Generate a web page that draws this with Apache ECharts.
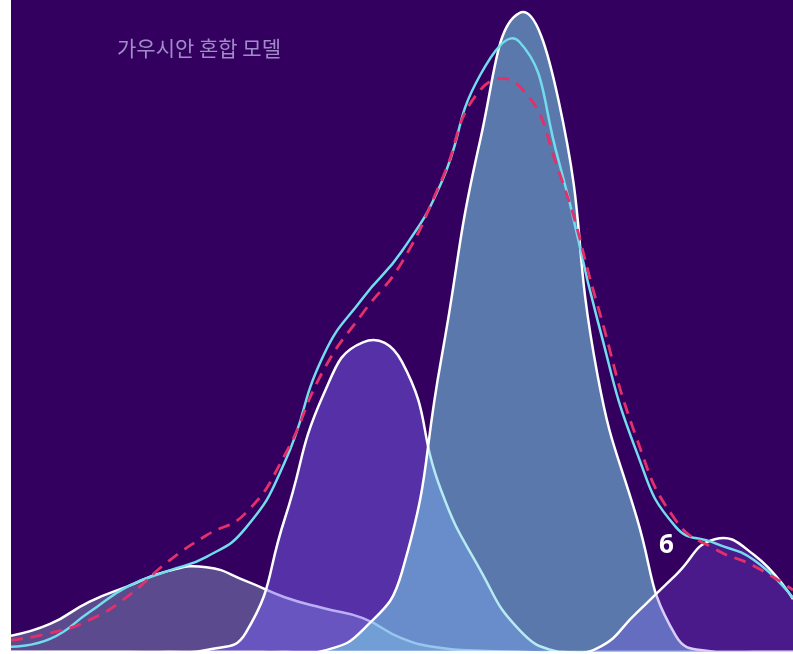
<!DOCTYPE html>
<html>
<head>
<meta charset="utf-8">
<script src="https://cdn.jsdelivr.net/npm/echarts@6/dist/echarts.min.js"></script>
<style>
html,body{margin:0;padding:0;background:#ffffff;}
#chart{width:793px;height:654px;}
</style>
</head>
<body>
<div id="chart"></div>
<script>
// x positions (arbitrary units)
var categories = ['0','0.5','1','1.5','2','2.5','3','3.5','4','4.5','5','5.5','6','6.5','7','7.5','8','8.5','9','9.5','10'];
// component densities (scaled 0-100)
var componentWide   = [2.5,4.3,7.7,10.1,12.4,13.0,10.9,8.4,6.7,5.2,2.1,0.6,0.2,0,0,0,0,0,0,0,0];
var componentLeft   = [0,0,0,0,0,0.3,2.9,20.4,39.6,47.5,44.5,24.8,12.6,3.4,0,0,0,0,0,0,0];
var componentMain   = [0,0,0,0,0,0,0,0,0.2,3.4,12.3,44.8,78.5,98.0,84.7,42.5,20.7,2.5,0,0,0];
var componentRight  = [0,0,0,0,0,0,0,0,0,0,0,0,0,0,0,0.6,6.0,11.8,17.3,14.9,8.1];
var mixtureFit      = [0.8,2.0,6.1,10.1,12.4,14.6,19.0,29.1,45.6,54.3,61.5,71.9,88.5,93.6,75.5,50.9,30.7,19.2,16.7,14.1,8.3];
var observedDensity = [1.8,2.9,4.9,8.6,13.8,17.9,21.3,30.2,43.3,52.0,59.8,72.2,86.2,86.8,73.9,53.2,32.8,20.2,15.8,13.2,9.5];
var titleText = '가우시안 혼합 모델';
var markText = '6';

var SMOOTH = 0.5;

// smooth bezier path through pixel points (unconstrained, ratio of segment lengths)
function curvePath(pts) {
  var n = pts.length, before = [], after = [];
  for (var i = 0; i < n; i++) {
    var p = pts[i];
    if (i === 0 || i === n - 1) { before[i] = p; after[i] = p; continue; }
    var a = pts[i - 1], b = pts[i + 1];
    var vx = (b[0] - a[0]) * SMOOTH, vy = (b[1] - a[1]) * SMOOTH;
    var d0 = Math.hypot(p[0] - a[0], p[1] - a[1]);
    var d1 = Math.hypot(b[0] - p[0], b[1] - p[1]);
    var s = d0 + d1;
    if (s !== 0) { d0 /= s; d1 /= s; }
    before[i] = [p[0] - vx * d0, p[1] - vy * d0];
    after[i] = [p[0] + vx * d1, p[1] + vy * d1];
  }
  var d = 'M' + pts[0][0] + ' ' + pts[0][1];
  for (var j = 1; j < n; j++) {
    d += ' C' + after[j - 1][0] + ' ' + after[j - 1][1] + ' ' +
         before[j][0] + ' ' + before[j][1] + ' ' + pts[j][0] + ' ' + pts[j][1];
  }
  return d;
}

function curveSeries(name, values, opts) {
  return {
    name: name, type: 'custom', coordinateSystem: 'cartesian2d', clip: true,
    data: values.map(function (v, i) { return [i, v]; }),
    renderItem: function (params, api) {
      if (params.dataIndex !== 0) return null;
      var pts = values.map(function (v, i) { return api.coord([i, v]); });
      var line = curvePath(pts);
      var children = [];
      if (opts.fill) {
        var base0 = api.coord([0, 0]), base1 = api.coord([values.length - 1, 0]);
        children.push({
          type: 'path',
          shape: {pathData: line + ' L' + base1[0] + ' ' + base1[1] + ' L' + base0[0] + ' ' + base0[1] + ' Z'},
          style: {fill: opts.fill, stroke: 'none'}
        });
      }
      children.push({
        type: 'path',
        shape: {pathData: line},
        style: {fill: 'none', stroke: opts.stroke, lineWidth: opts.width || 2.5, lineDash: opts.dash || null}
      });
      return {type: 'group', children: children};
    }
  };
}

var chart = echarts.init(document.getElementById('chart'), null, {renderer: 'canvas'});

chart.setOption({
  backgroundColor: '#ffffff',
  animation: false,
  title: {
    text: titleText, left: 112, top: 33,
    textStyle: {color: '#a08cc8', fontSize: 21, fontWeight: 'normal',
      fontFamily: '"Noto Sans CJK KR", "Noto Sans", sans-serif'}
  },
  grid: {left: 11, right: 0, top: 0, bottom: 2, show: true,
    backgroundColor: '#33005f', borderWidth: 0},
  xAxis: {type: 'category', data: categories, boundaryGap: false, show: false},
  yAxis: {type: 'value', min: 0, max: 100, show: false, splitLine: {show: false}},
  series: [
    curveSeries('wide', componentWide, {fill: 'rgba(131,150,190,0.5)', stroke: '#ffffff'}),
    curveSeries('left', componentLeft, {fill: 'rgba(119,96,240,0.5)', stroke: '#ffffff'}),
    curveSeries('main', componentMain, {fill: 'rgba(122,218,233,0.55)', stroke: '#ffffff'}),
    curveSeries('right', componentRight, {fill: 'rgba(128,87,243,0.3)', stroke: '#ffffff'}),
    curveSeries('fit', mixtureFit, {stroke: '#72dcec'}),
    curveSeries('observed', observedDensity, {stroke: '#e3306a', dash: [12, 8], width: 2.8})
  ],
  graphic: [{
    type: 'text', left: 659, top: 533,
    style: {text: markText, fill: '#ffffff', fontSize: 26, fontWeight: 'bold',
      fontFamily: '"Open Sans", "Noto Sans", sans-serif'}
  }]
});
</script>
</body>
</html>
